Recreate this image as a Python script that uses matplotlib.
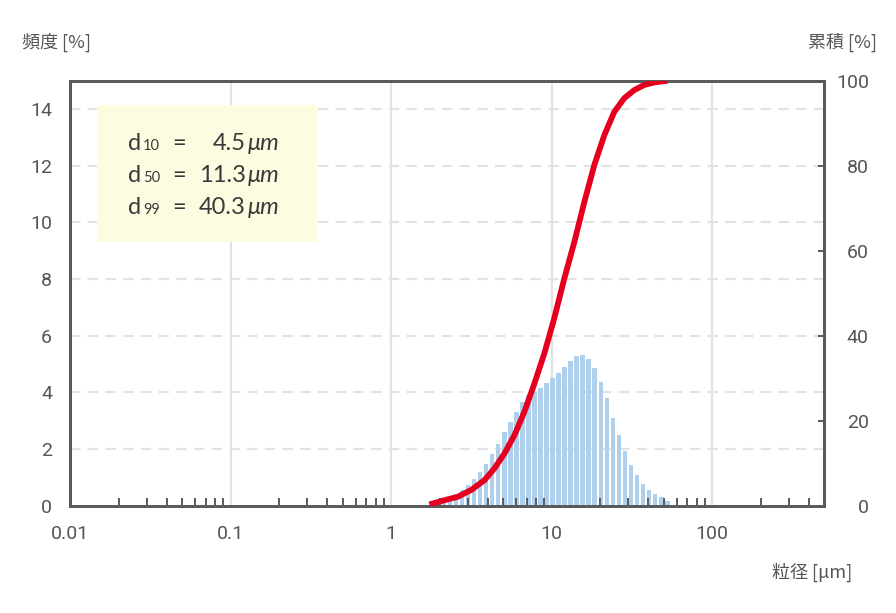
import matplotlib
matplotlib.use("Agg")
import matplotlib.pyplot as plt
from matplotlib.patches import Rectangle
from matplotlib.ticker import FixedLocator, NullFormatter

plt.rcParams['font.family'] = ['Roboto', 'Noto Sans CJK JP', 'DejaVu Sans']

# ---- data ----
size_um = [1.95, 2.13, 2.32, 2.53, 2.76, 3.01, 3.28, 3.58, 3.90, 4.25, 4.64, 5.06,
           5.52, 6.01, 6.56, 7.15, 7.80, 8.51, 9.28, 10.12, 11.03, 12.03, 13.12,
           14.31, 15.60, 17.01, 18.55, 20.23, 22.06, 24.06, 26.24, 28.61, 31.20,
           34.03, 37.11, 40.47, 44.13, 48.12, 52.48]
freq_pct = [0.16, 0.22, 0.31, 0.42, 0.55, 0.72, 0.94, 1.18, 1.47, 1.82, 2.18, 2.59,
            2.97, 3.32, 3.66, 3.89, 4.03, 4.15, 4.32, 4.50, 4.69, 4.91, 5.10, 5.28,
            5.32, 5.18, 4.87, 4.38, 3.79, 3.11, 2.49, 1.92, 1.45, 1.07, 0.78, 0.56,
            0.40, 0.30, 0.16]
cum_size = [1.73, 2.15, 2.60, 3.15, 3.81, 4.40, 5.08, 5.86, 6.76, 7.81, 9.01,
            10.39, 11.99, 13.85, 15.98, 18.44, 21.28, 24.56, 28.35, 32.71, 37.76,
            43.57, 52.70]
cum_pct = [0.3, 1.3, 2.1, 3.7, 6.0, 8.8, 12.3, 16.6, 22.1, 28.8, 35.9,
           44.2, 53.5, 62.1, 71.5, 80.2, 87.2, 92.7, 95.9, 97.8, 99.0,
           99.6, 100.0]
x_major = [0.01, 0.1, 1, 10, 100]
x_major_labels = ["0.01", "0.1", "1", "10", "100"]
x_minor = [m * d for d in [0.01, 0.1, 1, 10, 100] for m in range(2, 10) if m * d < 500]
left_ticks = [0, 2, 4, 6, 8, 10, 12, 14]
right_ticks = [0, 20, 40, 60, 80, 100]
stats = [("10", "4.5"), ("50", "11.3"), ("99", "40.3")]

W, H = 896, 613
fig = plt.figure(figsize=(W / 100, H / 100), dpi=100)
ax = fig.add_axes([70.2 / W, 1 - 505.7 / H, (824.4 - 70.2) / W, (505.7 - 80.7) / H])
ax2 = ax.twinx()

TXT = '#555555'
SP = '#5a5a5a'
GRID = '#e2e2e2'

ax.set_xscale('log')
ax.set_xlim(0.01, 500)
ax.set_ylim(0, 15)
ax2.set_ylim(0, 100)

# grid (behind bars)
for v in x_major[1:]:
    ax.axvline(v, color=GRID, lw=1.5, zorder=0.3)
for v in left_ticks[1:]:
    ax.axhline(v, color=GRID, lw=1.5, ls=(0, (5, 3.5)), zorder=0.3)

# bars (log-spaced bins)
r = 1.0905 ** 0.38
lefts = [c / r for c in size_um]
widths = [c * r - c / r for c in size_um]
ax.bar(lefts, freq_pct, width=widths, align='edge', color='#aed0ec',
       edgecolor='none', zorder=1)

# cumulative curve
ax2.plot(cum_size, cum_pct, color='#e60020', lw=4.2, solid_capstyle='butt',
         solid_joinstyle='round', zorder=3)

# ticks
ax.xaxis.set_major_locator(FixedLocator(x_major))
ax.set_xticklabels(x_major_labels)
ax.xaxis.set_minor_locator(FixedLocator(x_minor))
ax.xaxis.set_minor_formatter(NullFormatter())
ax.tick_params(axis='x', which='major', length=0, pad=14, labelsize=14, labelcolor=TXT)
ax.tick_params(axis='x', which='minor', direction='in', length=6, width=1.4, color=SP)
ax.set_yticks(left_ticks)
ax.tick_params(axis='y', length=0, pad=13, labelsize=14, labelcolor=TXT)
ax2.set_yticks(right_ticks)
ax2.tick_params(axis='y', direction='in', length=4, width=1.4, color=SP,
                pad=32, labelsize=14, labelcolor=TXT)
for lbl in ax2.get_yticklabels():
    lbl.set_horizontalalignment('right')

for a in (ax, ax2):
    for s in a.spines.values():
        s.set_color(SP)
        s.set_linewidth(2)

# stats box
box = Rectangle((96.7 / W, 1 - 241.7 / H), (317.3 - 96.7) / W, (241.7 - 105) / H,
                transform=fig.transFigure, facecolor='#fdfce1', edgecolor='none', zorder=2)
box.set_clip_on(False)
ax.add_artist(box)
TC = '#3a3a3a'
bases = [150, 182, 214]
for (sub, val), yb in zip(stats, bases):
    y = 1 - yb / H
    fig.text(128 / W, y, "d", fontsize=17, color=TC, va='baseline', ha='left', family='Lato')
    fig.text(143 / W, y, sub, fontsize=10.5, color=TC, va='baseline', ha='left', family='Lato')
    fig.text(179 / W, y, "=", fontsize=17, color=TC, va='baseline', ha='center', family='Lato')
    fig.text(246 / W, y, val, fontsize=17, color=TC, va='baseline', ha='right', family='Lato')
    fig.text(247.5 / W, y, "\u03bcm", fontsize=17, color=TC, va='baseline', ha='left',
             family='Lato', style='italic')

# axis titles
cjk = ['Noto Sans CJK JP', 'DejaVu Sans']
fig.text(22 / W, 1 - 42.5 / H, "頻度 [%]", fontsize=13, color=TXT, va='center', ha='left', family=cjk)
fig.text(877 / W, 1 - 42.5 / H, "累積 [%]", fontsize=13, color=TXT, va='center', ha='right', family=cjk)
fig.text(852 / W, 1 - 572 / H, "粒径 [μm]", fontsize=13, color=TXT, va='center', ha='right', family=cjk)

fig.savefig("out.png", dpi=100)
